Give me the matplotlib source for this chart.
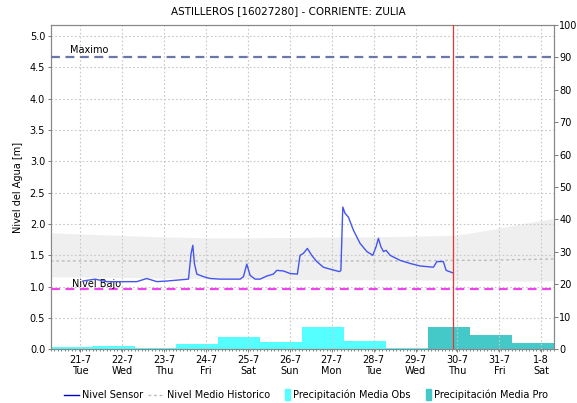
import matplotlib
matplotlib.use("Agg")
import matplotlib.pyplot as plt
import matplotlib.dates as mdates
from matplotlib.lines import Line2D
from matplotlib.patches import Patch, Rectangle
from matplotlib.legend_handler import HandlerPatch
import numpy as np
import pandas as pd

plt.rcParams['font.family'] = ['DejaVu Sans']
plt.rcParams['font.size'] = 7

title = "ASTILLEROS [16027280] - CORRIENTE: ZULIA"
base = pd.Timestamp("2020-07-21 00:00")

# Nivel sensor: hours since 21-7 00:00 and level [m]
sensor_hours = [1.4, 8.4, 15.1, 32.3, 38.0, 43.8, 49.5, 61.9, 63.4, 64.4, 65.3, 66.7,
                70.5, 74.3, 80.0, 91.5, 93.4, 95.3, 97.2, 100.1, 102.9, 106.8, 110.5,
                112.5, 116.3, 120.1, 124.3, 125.8, 127.7, 130.0, 132.5, 135.4, 139.2,
                143.0, 148.4, 149.2, 150.3, 151.6, 153.5, 156.4, 160.2, 164.1, 167.5,
                169.4, 170.7, 172.1, 173.6, 175.1, 177.4, 183.1, 188.9, 194.6, 202.2,
                204.2, 207.9, 209.5, 213.3]
sensor_level = [1.09, 1.12, 1.08, 1.08, 1.13, 1.08, 1.09, 1.12, 1.53, 1.66, 1.37, 1.20,
                1.16, 1.13, 1.12, 1.12, 1.16, 1.36, 1.18, 1.12, 1.12, 1.17, 1.20,
                1.26, 1.25, 1.21, 1.20, 1.50, 1.53, 1.61, 1.50, 1.40, 1.31,
                1.28, 1.24, 1.26, 2.27, 2.17, 2.11, 1.90, 1.69, 1.56, 1.50,
                1.64, 1.77, 1.64, 1.56, 1.58, 1.50, 1.42, 1.37, 1.33, 1.31,
                1.40, 1.40, 1.26, 1.22]

# Historic band and median
hist_hours = [-17, 10, 40, 70, 100, 140, 180, 215, 233, 248, 271]
hist_upper = [1.86, 1.83, 1.80, 1.78, 1.78, 1.79, 1.80, 1.82, 1.90, 1.98, 2.09]
hist_lower = [1.16, 1.15, 1.14, 1.13, 1.12, 1.11, 1.11, 1.10, 1.10, 1.09, 1.09]
hist_median = [1.41, 1.41, 1.41, 1.41, 1.41, 1.41, 1.41, 1.42, 1.42, 1.43, 1.44]

nivel_maximo = 4.67
nivel_bajo = 0.97
now_hours = 213.5

# Precipitation (right axis), daily from 07:00
obs_days = ["2020-07-20", "2020-07-21", "2020-07-22", "2020-07-23", "2020-07-24",
            "2020-07-25", "2020-07-26", "2020-07-27", "2020-07-28"]
obs_precip = [0.8, 1.1, 0.5, 1.7, 3.9, 2.4, 7.0, 2.6, 0.5]
pro_days = ["2020-07-29", "2020-07-30", "2020-07-31"]
pro_precip = [6.8, 4.3, 2.0]

tick_days = pd.date_range("2020-07-21", "2020-08-01", freq="D")

fig = plt.figure(figsize=(5.77, 4.03), dpi=100)
ax = fig.add_axes([0.0879, 0.1332, 0.8714, 0.8055])
ax2 = ax.twinx()
ax.set_zorder(ax2.get_zorder() + 1)
ax.patch.set_visible(False)

t_sensor = base + pd.to_timedelta(sensor_hours, unit="h")
t_hist = base + pd.to_timedelta(hist_hours, unit="h")

ax.fill_between(t_hist, hist_lower, hist_upper, color="#efefef", lw=0, zorder=1)
ax.plot(t_hist, hist_median, color="#bbbbbb", lw=1.0, ls=(0, (2, 2)), zorder=2)
ax.axhline(nivel_maximo, color="#6a78a8", lw=1.6, ls=(0, (4, 2.5)), zorder=3)
ax.axhline(nivel_bajo, color="#ee44ee", lw=1.6, ls=(0, (4, 2.5)), zorder=3)
ax.plot(t_sensor, sensor_level, color="#4455ee", lw=1.0, zorder=4)
ax.axvline(base + pd.Timedelta(hours=now_hours), color="#ee3333", lw=0.9, zorder=5)

xmin = pd.Timestamp("2020-07-20 07:00")
xmax = pd.Timestamp("2020-08-01 07:00")
ax.text(pd.Timestamp("2020-07-20 18:00"), nivel_maximo + 0.03, "Maximo", fontsize=7, va="bottom")
ax.text(pd.Timestamp("2020-07-20 19:00"), nivel_bajo + 0.0, "Nivel Bajo", fontsize=7, va="bottom")

obs_t = pd.to_datetime(obs_days) + pd.Timedelta(hours=7)
pro_t = pd.to_datetime(pro_days) + pd.Timedelta(hours=7)
ax2.bar(obs_t, obs_precip, width=1.0, align="edge", color="#55ffff", lw=0)
ax2.bar(pro_t, pro_precip, width=1.0, align="edge", color="#44c8c8", lw=0)

ax.set_xlim(xmin, xmax)
ax.set_ylim(0, 5.18)
ax2.set_ylim(0, 100)
ax.set_yticks(np.arange(0, 5.01, 0.5))
ax.yaxis.set_major_formatter(matplotlib.ticker.FormatStrFormatter("%.1f"))
ax2.set_yticks(np.arange(0, 101, 10))

ax.set_xticks(tick_days)
ax.set_xticklabels([f"{d.day}-{d.month}\n{d:%a}" for d in tick_days])
ax.xaxis.set_minor_locator(mdates.HourLocator(interval=2))
ax.tick_params(axis="x", which="minor", length=1.5, width=0.5, color="#555555")
ax.tick_params(axis="both", which="major", length=2, width=0.6, labelsize=7, pad=2, color="#666666")
ax2.tick_params(axis="y", length=3, width=0.6, labelsize=7, pad=1, color="#666666")

ax.grid(True, which="major", color="#c8c8c8", ls=(0, (1.5, 2)), lw=0.8)
for a in (ax, ax2):
    for s in a.spines.values():
        s.set_color("#888888")
        s.set_linewidth(0.8)

ax.set_ylabel("Nivel del Agua [m]", fontsize=7, labelpad=5)
fig.suptitle(title, fontsize=7.5, y=0.985)


def narrow_patch(legend, orig_handle, xdescent, ydescent, width, height, fontsize):
    w = height * 0.8
    return Rectangle((width - w - xdescent, -ydescent - 1.5), w, height + 3)


handles = [Line2D([], [], color="#0000cc", lw=1),
           Line2D([], [], color="#bbbbbb", lw=1, ls=(0, (2, 2))),
           Patch(color="#55ffff"),
           Patch(color="#44c8c8")]
labels = ["Nivel Sensor", "Nivel Medio Historico", "Precipitación Media Obs", "Precipitación Media Pro"]
fig.legend(handles, labels, loc="lower center", bbox_to_anchor=(0.53, -0.015), ncol=4,
           frameon=False, fontsize=7, handlelength=1.6, handletextpad=0.3, columnspacing=0.5,
           handler_map={Patch: HandlerPatch(patch_func=narrow_patch)})

fig.savefig("out.png", dpi=100)
